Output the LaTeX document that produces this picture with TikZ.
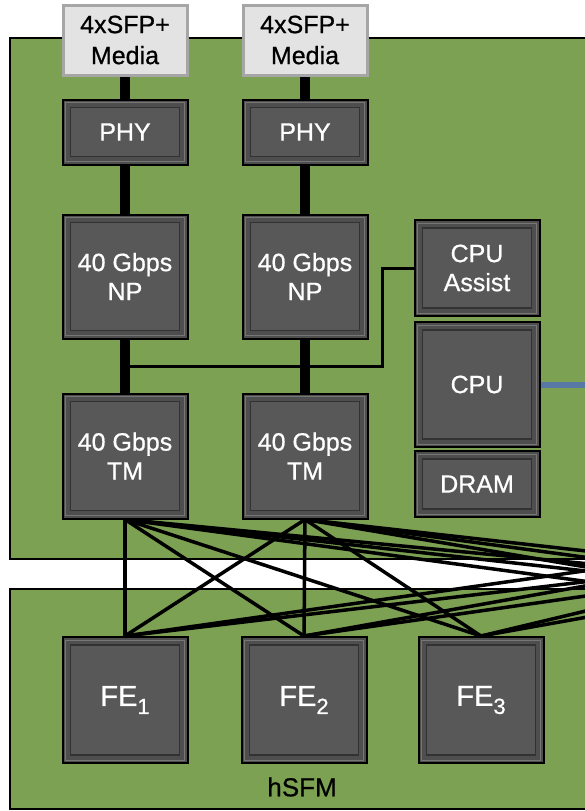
\documentclass[tikz,border=0pt]{standalone}
\usepackage{fontspec}
\setmainfont{Liberation Sans}[FakeBold=0.7]
\usetikzlibrary{positioning}
\usetikzlibrary{calc}

\definecolor{boardgreen}{RGB}{124,161,82}
\definecolor{chipgray}{RGB}{78,78,78}
\definecolor{chipface}{RGB}{88,88,88}
\definecolor{chipedge}{RGB}{50,50,50}
\definecolor{chiplight}{RGB}{118,118,118}
\definecolor{mediagray}{RGB}{227,227,227}
\definecolor{mediaedge}{RGB}{166,166,166}
\definecolor{linkblue}{RGB}{88,120,165}

\newcommand{\fesub}[1]{\raisebox{-8pt}{\fontsize{22}{22}\selectfont #1}}

\pgfdeclarelayer{boards}
\pgfdeclarelayer{links}
\pgfsetlayers{boards,links,main}

\begin{document}
\begin{tikzpicture}[x=1pt, y=-1pt,
    board/.style={draw=black, line width=2.5pt, fill=boardgreen},
    chip/.style={draw=black, line width=2pt, fill=chipgray, text=white,
        inner sep=0pt, minimum width=125pt, align=center,
        font=\fontsize{25}{29}\selectfont,
        path picture={
            \draw[chiplight, line width=1pt]
                ([shift={(3pt,-3pt)}]path picture bounding box.north west) rectangle
                ([shift={(-3pt,3pt)}]path picture bounding box.south east);
            \draw[chipedge, line width=1.5pt, fill=chipface]
                ([shift={(8pt,-8pt)}]path picture bounding box.north west) rectangle
                ([shift={(-8pt,8pt)}]path picture bounding box.south east);
        }},
    media/.style={draw=mediaedge, line width=3pt, fill=mediagray, text=black,
        inner sep=0pt, minimum width=124pt, minimum height=70pt, align=center,
        font=\fontsize{25}{31}\selectfont},
    bus/.style={line width=10pt},
    ctl/.style={line width=3pt},
    mesh/.style={line width=3.5pt},
    uplink/.style={line width=6pt, draw=linkblue}]

    \useasboundingbox (0,0) rectangle (585,811);

    \begin{pgfonlayer}{boards}
        \draw[board] (10,38) rectangle (620,559);
        \draw[board] (10,589) rectangle (620,809);
    \end{pgfonlayer}

    % line card
    \node[media] (sfp1) at (125,40) {4xSFP+\\Media};
    \node[media, right=53pt of sfp1] (sfp2) {4xSFP+\\Media};

    \node[chip, minimum height=65pt, below=22pt of sfp1] (phy1) {PHY};
    \node[chip, minimum height=65pt, below=22pt of sfp2] (phy2) {PHY};
    \node[chip, minimum height=124pt, below=48pt of phy1] (np1) {40 Gbps\\NP};
    \node[chip, minimum height=124pt, below=48pt of phy2] (np2) {40 Gbps\\NP};
    \node[chip, minimum height=125pt, below=53pt of np1] (tm1) {40 Gbps\\TM};
    \node[chip, minimum height=125pt, below=53pt of np2] (tm2) {40 Gbps\\TM};

    \node[chip, minimum height=96pt] (assist) at (477,268) {CPU\\Assist};
    \node[chip, minimum height=125pt, below=4pt of assist] (cpu) {CPU};
    \node[chip, minimum height=66pt, below=2pt of cpu] (dram) {DRAM};

    % hSFM
    \node[chip, minimum height=126pt, font=\fontsize{29}{32}\selectfont] (fe1) at (125,700) {FE\fesub{1}};
    \node[chip, minimum height=126pt, font=\fontsize{29}{32}\selectfont, right=52pt of fe1] (fe2) {FE\fesub{2}};
    \node[chip, minimum height=126pt, font=\fontsize{29}{32}\selectfont, right=50pt of fe2] (fe3) {FE\fesub{3}};
    \node[font=\fontsize{26}{30}\selectfont] (hsfm) at (302,787) {hSFM};

    % ends beyond the right edge
    \coordinate (tm3) at (1000,512);
    \coordinate (tm4) at (1177,512);
    \coordinate (fe4) at (1000,637);
    \coordinate (fe5) at (1177,637);
    \coordinate (fe6) at (1354,637);
    \coordinate (tap) at ($(np1.south)!0.5!(tm1.north)$);
    \coordinate (cpuout) at ([xshift=80pt]cpu.east);

    \begin{pgfonlayer}{links}
        \foreach \c in {1,2}{
            \draw[bus] (sfp\c) -- (phy\c);
            \draw[bus] (phy\c) -- (np\c);
            \draw[bus] (np\c) -- (tm\c);
        }
        \draw[ctl] (tap) -| ([xshift=-31pt]assist.west) -- (assist.west);
        \draw[uplink] (cpu) -- (cpuout);

        \foreach \t in {tm1,tm2}{
            \foreach \f in {fe1,fe2,fe3}
                \draw[mesh] (\t.south) -- (\f.north);
            \foreach \f in {fe4,fe5,fe6}
                \draw[mesh] (\t.south) -- (\f);
        }
        \foreach \f in {fe1,fe2,fe3}
            \foreach \t in {tm3,tm4}
                \draw[mesh] (\f.north) -- (\t);
    \end{pgfonlayer}
\end{tikzpicture}
\end{document}
